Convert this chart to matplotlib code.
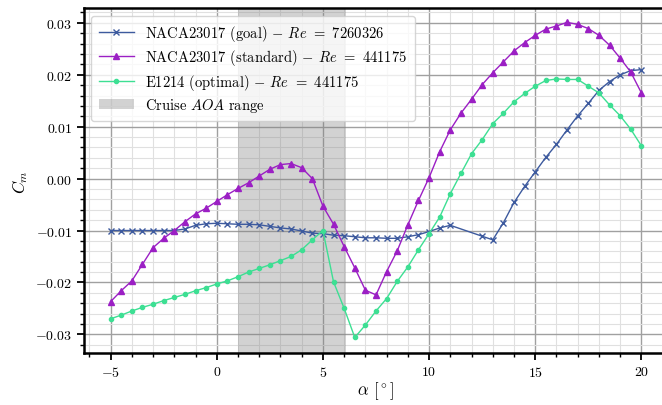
import matplotlib
matplotlib.use("Agg")
import matplotlib.pyplot as plt
from matplotlib.ticker import MultipleLocator

plt.rcParams['font.family'] = 'serif'
plt.rcParams['font.serif'] = ['cmr10', 'DejaVu Serif']
plt.rcParams['mathtext.fontset'] = 'cm'
plt.rcParams['axes.formatter.use_mathtext'] = True

# 攻角 (deg)
alpha_all = [-5, -4.5, -4, -3.5, -3, -2.5, -2, -1.5, -1, -0.5, 0, 0.5, 1, 1.5, 2, 2.5,
             3, 3.5, 4, 4.5, 5, 5.5, 6, 6.5, 7, 7.5, 8, 8.5, 9, 9.5, 10, 10.5, 11,
             11.5, 12, 12.5, 13, 13.5, 14, 14.5, 15, 15.5, 16, 16.5, 17, 17.5, 18,
             18.5, 19, 19.5, 20]

alpha_goal = [-5, -4.5, -4, -3.5, -3, -2.5, -2, -1.5, -1, -0.5, 0, 0.5, 1, 1.5, 2, 2.5,
              3, 3.5, 4, 4.5, 5, 5.5, 6, 6.5, 7, 7.5, 8, 8.5, 9, 9.5, 10, 10.5, 11,
              12.5, 13, 13.5, 14, 14.5, 15, 15.5, 16, 16.5, 17, 17.5, 18, 18.5, 19,
              19.5, 20]

cm_goal = [-0.0100, -0.0100, -0.0100, -0.0100, -0.0100, -0.0100, -0.0100, -0.0097,
           -0.0090, -0.0087, -0.0086, -0.0087, -0.0088, -0.0088, -0.0089, -0.0092,
           -0.0095, -0.0097, -0.0101, -0.0105, -0.0106, -0.0109, -0.0110, -0.0112,
           -0.0114, -0.0114, -0.0115, -0.0115, -0.0112, -0.0108, -0.0102, -0.0095,
           -0.0090,
           -0.0111, -0.0118, -0.0085, -0.0046, -0.0015, 0.0013, 0.0041, 0.0066,
           0.0094, 0.0121, 0.0145, 0.0170, 0.0187, 0.0200, 0.0208, 0.0210]

cm_standard = [-0.0237, -0.0216, -0.0197, -0.0165, -0.0133, -0.0115, -0.0100, -0.0083,
               -0.0068, -0.0057, -0.0044, -0.0031, -0.0019, -0.0008, 0.0005, 0.0018,
               0.0027, 0.0029, 0.0021, 0.0000, -0.0053, -0.0088, -0.0131, -0.0172,
               -0.0215, -0.0224, -0.0179, -0.0139, -0.0089, -0.0042, 0.0002, 0.0052,
               0.0094, 0.0126, 0.0153, 0.0181, 0.0204, 0.0225, 0.0246, 0.0262,
               0.0276, 0.0288, 0.0294, 0.0301, 0.0297, 0.0289, 0.0276, 0.0257,
               0.0232, 0.0205, 0.0165]

cm_optimal = [-0.0270, -0.0263, -0.0255, -0.0248, -0.0242, -0.0235, -0.0229, -0.0223,
              -0.0216, -0.0210, -0.0203, -0.0197, -0.0189, -0.0180, -0.0173, -0.0166,
              -0.0158, -0.0150, -0.0137, -0.0118, -0.0100, -0.0199, -0.0250, -0.0306,
              -0.0282, -0.0255, -0.0231, -0.0198, -0.0170, -0.0137, -0.0106, -0.0074,
              -0.0029, 0.0010, 0.0048, 0.0075, 0.0106, 0.0126, 0.0148, 0.0164,
              0.0178, 0.0189, 0.0192, 0.0191, 0.0191, 0.0178, 0.0165, 0.0142,
              0.0121, 0.0095, 0.0063]

cruise_range = [1, 6.1]

labels = [r'NACA23017 (goal) $-$ $Re$ $=$ $7260326$',
          r'NACA23017 (standard) $-$ $Re$ $=$ $441175$',
          r'E1214 (optimal) $-$ $Re$ $=$ $441175$',
          r'Cruise $AOA$ range']

fig = plt.figure(figsize=(6.62, 4.06), dpi=100)
ax = fig.add_axes([0.127, 0.128, 0.882, 0.849])

ax.plot(alpha_goal, cm_goal, color='#3d5a9e', marker='x', markersize=4.5,
        linewidth=1.0, label=labels[0])
ax.plot(alpha_all, cm_standard, color='#9b1fc4', marker='^', markersize=5,
        linewidth=1.0, label=labels[1])
ax.plot(alpha_all, cm_optimal, color='#3ddf93', marker='o', markersize=3,
        linewidth=1.0, label=labels[2])
ax.axvspan(cruise_range[0], cruise_range[1], color='gray', alpha=0.35,
           linewidth=0, zorder=1.5, label=labels[3])

ax.set_xlim(-6.25, 21.25)
ax.set_ylim(-0.0336, 0.0328)
ax.xaxis.set_major_locator(MultipleLocator(5))
ax.xaxis.set_minor_locator(MultipleLocator(1))
ax.yaxis.set_major_locator(MultipleLocator(0.01))
ax.yaxis.set_minor_locator(MultipleLocator(0.002))

ax.set_axisbelow(True)
ax.grid(which='major', color='#a0a0a0', linewidth=1.0)
ax.grid(which='minor', color='#e0e0e0', linewidth=0.8)

for s in ax.spines.values():
    s.set_linewidth(1.8)
ax.tick_params(which='major', length=5, width=1.3, labelsize=10)
ax.tick_params(which='minor', length=3, width=1.0)

ax.set_xlabel(r'$\alpha$ [$^\circ$]', fontsize=12, labelpad=0)
ax.set_ylabel(r'$C_m$', fontsize=12)

ax.legend(loc='upper left', fontsize=10.5, framealpha=0.8, borderpad=0.5,
          labelspacing=0.3, handlelength=2.4)

fig.savefig('out.png', dpi=100)
